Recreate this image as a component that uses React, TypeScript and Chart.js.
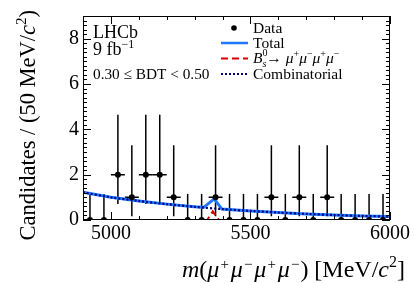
import React, { useEffect, useRef } from 'react';
import { Chart, registerables } from 'chart.js';

Chart.register(...registerables);

// ---------------- data ----------------
const binCenters = [4925, 4975, 5025, 5075, 5125, 5175, 5225, 5275, 5325, 5375, 5425, 5475, 5525, 5575, 5625, 5675, 5725, 5775, 5825, 5875, 5925, 5975];
const counts = [0, 0, 2, 1, 2, 2, 1, 0, 0, 1, 0, 0, 0, 1, 0, 1, 0, 1, 0, 0, 0, 0];
const errLow = [0, 0, 0.71, 0.17, 0.71, 0.71, 0.17, 0, 0, 0.17, 0, 0, 0, 0.17, 0, 0.17, 0, 0.17, 0, 0, 0, 0];
const errHigh = [1.15, 1.15, 4.64, 3.3, 4.64, 4.64, 3.3, 1.15, 1.15, 3.3, 1.15, 1.15, 1.15, 3.3, 1.15, 3.3, 1.15, 3.3, 1.15, 1.15, 1.15, 1.15];
const binHalfWidth = 25;

const combMass = [4900, 5000, 5100, 5200, 5300, 5400, 5500, 5600, 5700, 5800, 5900, 6000];
const combValues = [1.22, 1.0, 0.84, 0.7, 0.58, 0.48, 0.4, 0.33, 0.27, 0.22, 0.18, 0.15];

const totalMass = [4900, 5000, 5100, 5200, 5300, 5333, 5370, 5398, 5500, 5600, 5700, 5800, 5900, 6000];
const totalValues = [1.22, 1.0, 0.84, 0.7, 0.58, 0.56, 0.93, 0.48, 0.4, 0.33, 0.27, 0.22, 0.18, 0.15];

const signalMass = [4900, 5345, 5365, 5387, 6000];
const signalValues = [0, 0, 0.38, 0, 0];

const xTickValues = [5000, 5500, 6000];
const yTickValues = [0, 2, 4, 6, 8];

const legendLabels = ['Data', 'Total', 'Bs→μμμμ', 'Combinatorial'];
const experimentLabel = 'LHCb';
const lumiLabel = '9 fb';
const bdtLabel = '0.30 ≤ BDT < 0.50';

// ---------------- style ----------------
const FONT = '"Liberation Serif", "Times New Roman", serif';
const BLUE = '#1f78ff';
const NAVY = '#00007a';
const RED = '#d40000';

type Seg = { t: string; italic?: boolean; size?: number; dy?: number; noAdvance?: boolean; gap?: number };

function segFont(s: Seg, base: number) {
  return `${s.italic ? 'italic ' : ''}${s.size ?? base}px ${FONT}`;
}
function measureRich(ctx: CanvasRenderingContext2D, segs: Seg[], base: number) {
  let w = 0;
  for (const s of segs) {
    ctx.font = segFont(s, base);
    if (!s.noAdvance) w += ctx.measureText(s.t).width + (s.gap ?? 0);
  }
  return w;
}
function drawRich(ctx: CanvasRenderingContext2D, segs: Seg[], x: number, y: number, base: number, align: 'left' | 'right' | 'center') {
  const w = measureRich(ctx, segs, base);
  let cx = align === 'left' ? x : align === 'right' ? x - w : x - w / 2;
  ctx.textAlign = 'left';
  ctx.textBaseline = 'alphabetic';
  ctx.fillStyle = '#000';
  for (const s of segs) {
    ctx.font = segFont(s, base);
    ctx.fillText(s.t, cx, y + (s.dy ?? 0));
    if (!s.noAdvance) cx += ctx.measureText(s.t).width + (s.gap ?? 0);
  }
}

const yTitle: Seg[] = [
  { t: 'Candidates / (50 MeV/' },
  { t: 'c', italic: true },
  { t: '2', size: 15, dy: -9 },
  { t: ')' },
];
const xTitle: Seg[] = [
  { t: 'm', italic: true },
  { t: '(' },
  { t: 'μ', italic: true, gap: 1 },
  { t: '+', size: 15, dy: -8, gap: 2 },
  { t: 'μ', italic: true, gap: 1 },
  { t: '−', size: 15, dy: -8, gap: 2 },
  { t: 'μ', italic: true, gap: 1 },
  { t: '+', size: 15, dy: -8, gap: 2 },
  { t: 'μ', italic: true, gap: 1 },
  { t: '−', size: 15, dy: -8, gap: 1 },
  { t: ') [MeV/' },
  { t: 'c', italic: true },
  { t: '2', size: 16, dy: -10 },
  { t: ']' },
];
const bsLabel: Seg[] = [
  { t: 'B', italic: true },
  { t: '0', size: 10, dy: -7, noAdvance: true },
  { t: 's', italic: true, size: 10, dy: 4 },
  { t: '→ ' },
  { t: 'μ', italic: true },
  { t: '+', size: 10, dy: -6 },
  { t: 'μ', italic: true },
  { t: '−', size: 10, dy: -6 },
  { t: 'μ', italic: true },
  { t: '+', size: 10, dy: -6 },
  { t: 'μ', italic: true },
  { t: '−', size: 10, dy: -6 },
];

const decorPlugin = {
  id: 'decor',
  beforeDatasetsDraw(chart: any) {
    const { ctx } = chart;
    const xs = chart.scales.x;
    const ys = chart.scales.y;
    ctx.save();
    ctx.strokeStyle = '#000';
    ctx.lineWidth = 1.5;
    for (let i = 0; i < binCenters.length; i++) {
      const px = xs.getPixelForValue(binCenters[i]);
      const py = ys.getPixelForValue(counts[i]);
      ctx.beginPath();
      ctx.moveTo(px, ys.getPixelForValue(errLow[i]));
      ctx.lineTo(px, ys.getPixelForValue(errHigh[i]));
      if (counts[i] > 0) {
        ctx.moveTo(xs.getPixelForValue(binCenters[i] - binHalfWidth), py);
        ctx.lineTo(xs.getPixelForValue(binCenters[i] + binHalfWidth), py);
      }
      ctx.stroke();
    }
    ctx.restore();
  },
  afterDatasetsDraw(chart: any) {
    const { ctx, chartArea: a } = chart;
    const xs = chart.scales.x;
    const ys = chart.scales.y;
    ctx.save();
    ctx.strokeStyle = '#000';
    ctx.lineWidth = 1;
    ctx.strokeRect(a.left + 0.5, a.top + 0.5, a.right - a.left - 1, a.bottom - a.top - 1);
    ctx.beginPath();
    for (let v = 4900; v <= 6000; v += 100) {
      const px = Math.round(xs.getPixelForValue(v)) + 0.5;
      const len = v % 500 === 0 ? 8 : 4;
      ctx.moveTo(px, a.bottom);
      ctx.lineTo(px, a.bottom - len);
      ctx.moveTo(px, a.top);
      ctx.lineTo(px, a.top + len);
    }
    for (let k = 0; k <= 45; k++) {
      const v = k * 0.2;
      const py = Math.round(ys.getPixelForValue(v)) + 0.5;
      const len = k % 10 === 0 ? 8 : 4;
      ctx.moveTo(a.left, py);
      ctx.lineTo(a.left + len, py);
      ctx.moveTo(a.right, py);
      ctx.lineTo(a.right - len, py);
    }
    ctx.stroke();
    ctx.restore();
  },
  afterDraw(chart: any) {
    const { ctx } = chart;
    ctx.save();
    // labels
    drawRich(ctx, [{ t: experimentLabel }], 93, 38, 18, 'left');
    drawRich(ctx, [{ t: lumiLabel }, { t: '−1', size: 12, dy: -7 }], 93, 55, 18, 'left');
    drawRich(ctx, [{ t: bdtLabel }], 93, 79, 15.3, 'left');

    // legend
    const lx0 = 221, lx1 = 248, tx = 253;
    ctx.fillStyle = '#000';
    ctx.beginPath();
    ctx.arc(234, 28, 2.8, 0, Math.PI * 2);
    ctx.fill();
    drawRich(ctx, [{ t: legendLabels[0] }], tx, 33, 15.5, 'left');

    ctx.lineWidth = 2.5;
    ctx.strokeStyle = BLUE;
    ctx.setLineDash([]);
    ctx.beginPath(); ctx.moveTo(lx0, 43); ctx.lineTo(lx1, 43); ctx.stroke();
    drawRich(ctx, [{ t: legendLabels[1] }], tx, 48, 15.5, 'left');

    ctx.lineWidth = 2;
    ctx.strokeStyle = RED;
    ctx.setLineDash([7, 4]);
    ctx.beginPath(); ctx.moveTo(lx0, 58.5); ctx.lineTo(lx1, 58.5); ctx.stroke();
    drawRich(ctx, bsLabel, tx, 63, 15.5, 'left');

    ctx.strokeStyle = NAVY;
    ctx.setLineDash([2, 2]);
    ctx.beginPath(); ctx.moveTo(lx0, 74); ctx.lineTo(lx1, 74); ctx.stroke();
    ctx.setLineDash([]);
    drawRich(ctx, [{ t: legendLabels[3] }], tx, 79, 15.5, 'left');

    // axis titles
    drawRich(ctx, xTitle, 405, 277, 24, 'right');
    ctx.translate(35, 10);
    ctx.rotate(-Math.PI / 2);
    drawRich(ctx, yTitle, 0, 0, 22.5, 'right');
    ctx.restore();
  },
};

export default function App() {
  const ref = useRef<HTMLCanvasElement>(null);
  useEffect(() => {
    if (!ref.current) return;
    const pts = (xs: number[], ys: number[]) => xs.map((x, i) => ({ x, y: ys[i] }));
    const chart = new Chart(ref.current, {
      type: 'scatter',
      data: {
        datasets: [
          {
            label: legendLabels[0],
            data: pts(binCenters, counts),
            pointRadius: 3,
            pointBackgroundColor: '#000',
            pointBorderWidth: 0,
            showLine: false,
          },
          {
            label: legendLabels[3],
            data: pts(combMass, combValues),
            showLine: true,
            borderColor: NAVY,
            borderWidth: 2.2,
            borderDash: [2, 2],
            pointRadius: 0,
            tension: 0.3,
          },
          {
            label: legendLabels[2],
            data: pts(signalMass, signalValues),
            showLine: true,
            borderColor: RED,
            borderWidth: 2,
            borderDash: [7, 4],
            pointRadius: 0,
          },
          {
            label: legendLabels[1],
            data: pts(totalMass, totalValues),
            showLine: true,
            borderColor: BLUE,
            borderWidth: 3,
            pointRadius: 0,
          },
        ] as any,
      },
      options: {
        animation: false,
        responsive: false,
        devicePixelRatio: 1,
        layout: { padding: { top: 14, right: 25, left: 0, bottom: 0 } },
        plugins: { legend: { display: false }, tooltip: { enabled: false } },
        scales: {
          x: {
            type: 'linear',
            min: 4900,
            max: 6000,
            afterBuildTicks: (s: any) => { s.ticks = xTickValues.map((v) => ({ value: v })); },
            afterFit: (s: any) => { s.height = 63; },
            ticks: {
              font: { family: FONT, size: 20 },
              color: '#000',
              padding: 2,
              maxRotation: 0,
              autoSkip: false,
              callback: (v: any) => String(v),
            },
            grid: { display: false, drawTicks: false },
            border: { display: false },
          },
          y: {
            type: 'linear',
            min: 0,
            max: 9,
            afterBuildTicks: (s: any) => { s.ticks = yTickValues.map((v) => ({ value: v })); },
            afterFit: (s: any) => { s.width = 83; },
            ticks: {
              font: { family: FONT, size: 20 },
              color: '#000',
              padding: 4,
              callback: (v: any) => String(v),
            },
            grid: { display: false, drawTicks: false },
            border: { display: false },
          },
        },
      } as any,
      plugins: [decorPlugin],
    });
    return () => chart.destroy();
  }, []);
  return (
    <div style={{ position: 'fixed', left: 0, top: 0, width: 415, height: 283, background: '#fff' }}>
      <canvas ref={ref} width={415} height={283} style={{ width: 415, height: 283 }} />
    </div>
  );
}
